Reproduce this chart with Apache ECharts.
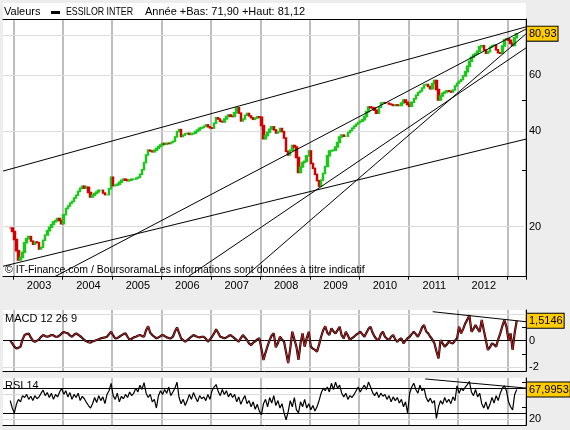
<!DOCTYPE html>
<html>
<head>
<meta charset="utf-8">
<script src="https://cdn.jsdelivr.net/npm/echarts@6/dist/echarts.min.js"></script>
<style>
  html, body { margin: 0; padding: 0; background: #ededed; }
  #chart { width: 570px; height: 430px; }
</style>
</head>
<body>
<div id="chart"></div>
<script>
  var FONT = "'Liberation Sans', Arial, sans-serif";

  // half-month periods on the x axis
  var firstPeriod = '2002-10b';
  var lastPeriod = '2013-05a';
  var dataStart = '2002-12a';
  var yearLabels = ['2003', '2004', '2005', '2006', '2007', '2008', '2009', '2010', '2011', '2012'];

  var priceTicks = [20, 30, 40, 50, 60];
  var priceLabels = [20, 40, 60];
  var priceGrid = [20, 40, 60, 80];
  var macdTicks = [-2, -1, 0, 1, 2];
  var macdLabels = [-2, 0];
  var macdGrid = [-2, 2];
  var rsiTicks = [20, 40, 60, 80];
  var rsiLabels = [20];
  var rsiGrid = [20, 60];
  var rsiBands = [30, 70];

  // closing prices, one per half month (from 2002-12a)
  var closes = [
    19.8, 19.3,
    18.2, 16.8, 15.7, 16.0, 16.6, 17.8, 18.3, 18.6, 18.0, 17.6, 17.9, 17.8, 17.0, 17.2, 18.1, 18.8, 19.4, 19.9, 20.3, 20.7, 20.9, 21.2, 20.9, 20.4,
    21.8, 22.8, 23.2, 23.7, 24.0, 24.6, 25.1, 25.8, 26.4, 26.8, 26.4, 26.6, 25.6, 24.8, 25.1, 25.4, 25.7, 26.0, 26.0, 25.5, 25.2, 25.2, 26.3, 28.6,
    26.9, 27.0, 27.2, 27.6, 28.0, 28.2, 28.0, 27.9, 28.0, 28.2, 28.2, 28.4, 28.6, 29.2, 30.2, 31.8, 33.6, 34.8, 34.6, 34.4, 34.8, 35.2, 35.7, 36.1,
    36.5, 36.3, 36.6, 36.5, 36.8, 37.1, 38.3, 39.8, 40.4, 38.4, 38.8, 39.2, 39.3, 39.0, 39.2, 39.3, 39.8, 40.3, 40.8, 41.0, 41.4, 41.8, 41.2, 40.9,
    40.8, 42.3, 44.0, 43.6, 42.9, 42.7, 43.6, 44.4, 44.9, 44.5, 44.4, 45.6, 47.3, 45.5, 43.0, 43.6, 44.8, 45.4, 44.6, 44.0, 43.5, 43.9, 44.3, 44.2,
    41.6, 37.8, 38.7, 39.6, 40.5, 41.2, 40.3, 39.4, 39.8, 40.7, 39.8, 38.0, 34.5, 33.6, 34.8, 36.0, 35.6, 33.0, 29.6, 30.8, 31.8, 32.1, 33.4, 34.6,
    31.6, 30.5, 29.2, 27.9, 26.8, 28.0, 29.4, 30.9, 33.4, 34.6, 34.7, 34.8, 35.6, 36.8, 38.3, 38.8, 38.5, 38.5, 39.5, 40.1, 40.8, 41.4, 42.0, 42.5,
    42.9, 43.4, 44.4, 46.0, 47.6, 47.4, 47.2, 46.5, 45.5, 47.5, 49.0, 49.1, 48.9, 48.9, 48.6, 48.4, 48.1, 48.3, 48.1, 48.1, 49.0, 50.0, 49.2, 48.4,
    47.8, 49.2, 50.5, 51.8, 52.8, 53.4, 54.6, 55.8, 56.0, 55.2, 54.3, 56.4, 57.6, 54.0, 50.0, 51.5, 52.6, 53.0, 53.5, 53.3, 53.0, 53.8, 55.4, 56.5,
    57.3, 58.0, 59.6, 61.4, 63.9, 66.3, 68.2, 69.4, 70.1, 71.2, 73.6, 74.2, 71.9, 70.2, 71.0, 73.4, 74.2, 74.5, 72.0, 70.5, 70.2, 74.0, 77.4, 78.0,
    77.2, 75.5, 74.3, 78.5, 80.93
  ];

  var macd = [
    0.0, -0.2, -0.45, -0.58, -0.55, -0.45, 0.1, 0.43, 0.5, 0.55, 0.25, 0.0, -0.08, 0.0, 0.1, 0.3, 0.43, 0.35, 0.3, 0.35, 0.43, 0.4, 0.3, 0.3, 0.4, 0.55,
    0.66, 0.6, 0.56, 0.4, 0.3, 0.45, 0.56, 0.45, 0.35, 0.2, 0.05, -0.05, -0.12, -0.15, -0.05, 0.0, 0.05, 0.1, 0.18, 0.22, 0.25, 0.3, 0.5, 0.68,
    0.4, 0.18, 0.2, 0.3, 0.4, 0.5, 0.56, 0.3, 0.05, 0.15, 0.25, 0.3, 0.38, 0.43, 0.35, 0.3, 0.8, 1.1, 0.6, 0.43, 0.3, 0.18, 0.25, 0.35,
    0.43, 0.35, 0.25, 0.2, 0.18, 0.3, 0.7, 1.0, 0.6, 0.18, 0.05, -0.08, 0.05, 0.18, 0.3, 0.43, 0.35, 0.28, 0.25, 0.3, 0.3, 0.15, -0.08, 0.1,
    0.3, 0.55, 0.86, 0.6, 0.3, 0.25, 0.18, 0.25, 0.35, 0.43, 0.3, 0.18, 0.05, -0.08, 0.2, 0.43, 0.25, 0.05, -0.2, -0.33, -0.15, -0.05, 0.1, 0.18,
    -0.6, -1.46, -0.9, -0.4, 0.05, 0.4, 0.56, -0.5, -0.2, 0.3, 0.1, -0.08, -0.9, -1.7, -0.6, 0.68, 0.1, -0.45, -1.46, -0.2, 0.56, -0.45, 0.2, 0.68,
    -0.45, -0.6, -0.7, -0.83, -0.3, 0.3, 0.8, 1.1, 0.6, 0.43, 0.94, 0.7, 0.56, 0.8, 1.06, 0.4, 0.18, 0.68, 0.4, 0.05, 0.2, 0.3, 0.45, 0.56,
    0.68, 0.5, 0.3, 0.6, 0.9, 1.06, 0.6, 0.3, 0.1, 0.05, 0.5, 0.68, 0.3, 0.15, 0.05, 0.3, 0.43, 0.1, -0.08, 0.1, 0.18, -0.2, 0.0, 0.2,
    0.3, 0.5, 0.68, 0.5, 0.3, 0.6, 1.0, 1.19, 0.7, 0.56, 0.3, 0.1, -0.2, -0.8, -1.34, 0.05, -0.2, -0.45, -0.3, -0.08, -0.15, -0.2, 0.0, 0.18,
    1.06, 0.56, 0.9, 1.31, 1.6, 1.94, 0.68, 0.9, 1.19, 0.9, 0.68, 1.57, 0.8, 0.05, -0.7, -0.5, -0.2, -0.3, -0.45, 0.1, 0.56, 1.1, 1.57, 1.06,
    0.05, 0.56, -0.7, 0.6, 1.5146
  ];

  var rsi = [
    50, 38, 30, 44, 52, 48, 58, 55, 60, 52, 57, 50, 58, 53, 56, 62, 67, 58, 63, 55, 62, 52, 60, 56, 64, 70,
    60, 66, 56, 63, 52, 60, 55, 62, 50, 57, 53, 47, 42, 38, 45, 55, 47, 58, 50, 56, 45, 60, 66, 78,
    58, 52, 62, 48, 57, 53, 60, 55, 64, 58, 62, 70, 64, 75, 68, 79, 62, 55, 60, 48, 52, 38, 58, 66,
    60, 68, 62, 72, 58, 64, 70, 80, 55, 45, 52, 42, 50, 60, 52, 63, 55, 48, 58, 53, 56, 50, 60, 52,
    66, 72, 76, 65, 58, 68, 60, 66, 56, 62, 55, 60, 48, 56, 44, 52, 58, 45, 50, 40, 48, 36, 44, 33,
    27, 45, 52, 40, 55, 46, 58, 42, 50, 38, 45, 30, 19, 32, 50, 40, 55, 35, 30, 48, 40, 52, 38, 45,
    35, 42, 33, 40, 50, 62, 70, 66, 72, 64, 78, 68, 80, 70, 75, 62, 56, 62, 52, 58, 55, 60, 66, 72,
    64, 70, 75, 68, 80, 72, 63, 58, 64, 55, 62, 57, 60, 52, 58, 48, 56, 50, 55, 46, 52, 40, 48, 30,
    62, 72, 78, 68, 62, 75, 66, 70, 55, 48, 54, 46, 50, 21, 40, 50, 44, 55, 47, 52, 45, 56, 50, 74,
    62, 70, 66, 72, 76, 81, 64, 58, 68, 56, 62, 45, 38, 48, 36, 44, 55, 46, 58, 50, 62, 70, 74, 66,
    48, 40, 35, 60, 67.9953
  ];

  // trend lines, [period index, value] pairs (index -0.5 = left edge)
  var priceTrends = [
    [[-0.5, 29.9], [253.5, 85.0]],
    [[24.5, 13.9], [253.5, 83.7]],
    [[-0.5, 15.0], [253.5, 37.7]],
    [[89.3, 13.9], [253.5, 73.0]],
    [[117, 13.9], [253.5, 80.8]]
  ];
  var macdTrend = [[208.2, 2.2], [253.5, 1.44]];
  var rsiTrend = [[204.5, 85.1], [253.5, 70.3]];

  var periods = [];
  for (var y = 2002; y <= 2013; y++) {
    for (var m = 1; m <= 12; m++) {
      ['a', 'b'].forEach(function (h) {
        var p = y + '-' + (m < 10 ? '0' + m : m) + h;
        if (p >= firstPeriod && p <= lastPeriod) periods.push(p);
      });
    }
  }
  var start = periods.indexOf(dataStart);
  var idxMax = periods.length - 0.5;

  function spread (arr) {
    return periods.map(function (p, i) {
      var k = i - start;
      return (k >= 0 && k < arr.length) ? arr[k] : '-';
    });
  }

  var candles = periods.map(function (p, i) {
    var k = i - start;
    if (k < 0 || k >= closes.length) return '-';
    var o = k > 0 ? closes[k - 1] : closes[k];
    var c = closes[k];
    return [o, c, Math.min(o, c), Math.max(o, c)];
  });

  function comma (v, d) { return v.toFixed(d).replace('.', ','); }
  function isYearStart (i, val) { return val.slice(5) === '01a'; }
  function isMidYear (i, val) { return val.slice(5) === '07a' && yearLabels.indexOf(val.slice(0, 4)) >= 0; }

  function hLines (values, color) {
    return values.map(function (v) {
      return { yAxis: v, lineStyle: { color: color, width: 1, type: 'solid' }, label: { show: false } };
    });
  }
  function valueBox (v, text) {
    return {
      yAxis: v,
      lineStyle: { color: 'rgba(0,0,0,0)', type: 'solid' },
      label: {
        show: true, position: 'end', distance: 1, formatter: text,
        backgroundColor: '#ffcc00', borderColor: '#000', borderWidth: 1,
        padding: [2, 1, 1, 2], color: '#000', fontSize: 11, fontFamily: FONT
      }
    };
  }
  function markLines (data) {
    return { silent: true, symbol: ['none', 'none'], animation: false, z: 1, data: data };
  }

  function catAxis (gridIndex, main) {
    return {
      type: 'category', gridIndex: gridIndex, data: periods, position: 'bottom', boundaryGap: true,
      axisLine: { show: true, onZero: false, lineStyle: { color: '#000', width: 1 } },
      axisTick: { show: main, interval: isYearStart, length: 3, lineStyle: { color: '#000' } },
      axisLabel: {
        show: main, interval: isMidYear, margin: 4, color: '#000', fontSize: 11, fontFamily: FONT,
        formatter: function (val) { return val.slice(0, 4); }
      },
      splitLine: { show: true, interval: isYearStart, lineStyle: { color: '#a9a9a9', width: 1.5 } }
    };
  }
  function idxAxis (gridIndex, showTop) {
    return {
      type: 'value', gridIndex: gridIndex, min: -0.5, max: idxMax, position: 'top', show: showTop,
      axisLine: { show: true, onZero: false, lineStyle: { color: '#000', width: 1 } },
      axisTick: { show: false }, axisLabel: { show: false }, splitLine: { show: false }
    };
  }
  function valAxis (gridIndex, type, min, max, ticks, labels) {
    return {
      type: type, gridIndex: gridIndex, position: 'right', min: min, max: max,
      axisLine: { show: true, onZero: false, lineStyle: { color: '#000', width: 1 } },
      axisTick: { show: true, inside: true, length: 4, customValues: ticks, lineStyle: { color: '#000' } },
      axisLabel: { customValues: labels, margin: 3, color: '#000', fontSize: 11, fontFamily: FONT },
      splitLine: { show: false }
    };
  }
  function trend (xAxisIndex, yAxisIndex, pts) {
    return {
      type: 'line', xAxisIndex: xAxisIndex, yAxisIndex: yAxisIndex, data: pts,
      symbol: 'none', silent: true, z: 3, clip: true,
      lineStyle: { color: '#000', width: 1 }
    };
  }

  var series = [{
    type: 'candlestick', xAxisIndex: 0, yAxisIndex: 0, data: candles, barWidth: 2,
    itemStyle: { color: '#1ac81a', color0: '#d40000', borderColor: '#1ac81a', borderColor0: '#d40000', borderWidth: 1.5 },
    markLine: markLines(hLines(priceGrid, '#dcdcdc').concat([valueBox(closes[closes.length - 1], comma(closes[closes.length - 1], 2))]))
  }];
  priceTrends.forEach(function (t) { series.push(trend(1, 0, t)); });
  series.push({
    type: 'line', xAxisIndex: 2, yAxisIndex: 1, data: spread(macd), showSymbol: false, silent: true,
    lineStyle: { color: '#000', width: 2.2 },
    markLine: markLines(hLines(macdGrid, '#dcdcdc').concat(hLines([0], '#000'), [valueBox(macd[macd.length - 1], comma(macd[macd.length - 1], 4))]))
  });
  series.push({
    type: 'line', xAxisIndex: 2, yAxisIndex: 1, data: spread(macd), showSymbol: false, silent: true,
    lineStyle: { color: '#d42020', width: 1 }
  });
  series.push(trend(3, 1, macdTrend));
  series.push({
    type: 'line', xAxisIndex: 4, yAxisIndex: 2, data: spread(rsi), showSymbol: false, silent: true,
    lineStyle: { color: '#000', width: 1.2 },
    markLine: markLines(hLines(rsiGrid, '#dcdcdc').concat(hLines(rsiBands, '#000'), [valueBox(rsi[rsi.length - 1], comma(rsi[rsi.length - 1], 4))]))
  });
  series.push(trend(5, 2, rsiTrend));

  var option = {
    animation: false,
    backgroundColor: '#ededed',
    grid: [
      { left: 3, right: 44, top: 19, height: 257.7, show: true, backgroundColor: '#fff', borderWidth: 0 },
      { left: 3, right: 44, top: 310, height: 61, show: true, backgroundColor: '#fff', borderWidth: 0 },
      { left: 3, right: 44, top: 378, height: 47.3, show: true, backgroundColor: '#fff', borderWidth: 0 }
    ],
    xAxis: [
      catAxis(0, true), idxAxis(0, true),
      catAxis(1, false), idxAxis(1, false),
      catAxis(2, false), idxAxis(2, false)
    ],
    yAxis: [
      valAxis(0, 'log', 13.91, 90, priceTicks, priceLabels),
      valAxis(1, 'value', -2.3, 2.33, macdTicks, macdLabels),
      valAxis(2, 'value', 10, 86.6, rsiTicks, rsiLabels)
    ],
    graphic: [
      { type: 'rect', left: 3, top: 3, shape: { width: 523, height: 16 }, style: { fill: '#fff' }, silent: true },
      { type: 'text', left: 4, top: 6, style: { text: 'Valeurs', font: '11px ' + FONT, fill: '#000' } },
      { type: 'rect', left: 51, top: 11, shape: { width: 9, height: 3 }, style: { fill: '#000' } },
      { type: 'text', x: 66, y: 6, scaleX: 0.8, style: { text: 'ESSILOR INTER', font: '11px ' + FONT, fill: '#000' } },
      { type: 'text', left: 145, top: 6, style: { text: 'Année +Bas: 71,90 +Haut: 81,12', font: '11px ' + FONT, fill: '#000' } },
      { type: 'text', left: 5, top: 265, z: 10, style: { text: '© IT-Finance.com / BoursoramaLes informations sont données à titre indicatif', font: '10.5px ' + FONT, fill: '#000' } },
      { type: 'text', left: 5, top: 313, z: 10, style: { text: 'MACD 12 26 9', font: '11px ' + FONT, fill: '#000' } },
      { type: 'text', left: 5, top: 380, z: 10, style: { text: 'RSI 14', font: '11px ' + FONT, fill: '#000' } }
    ],
    series: series
  };

  var myChart = echarts.init(document.getElementById('chart'));
  myChart.setOption(option);
</script>
</body>
</html>
